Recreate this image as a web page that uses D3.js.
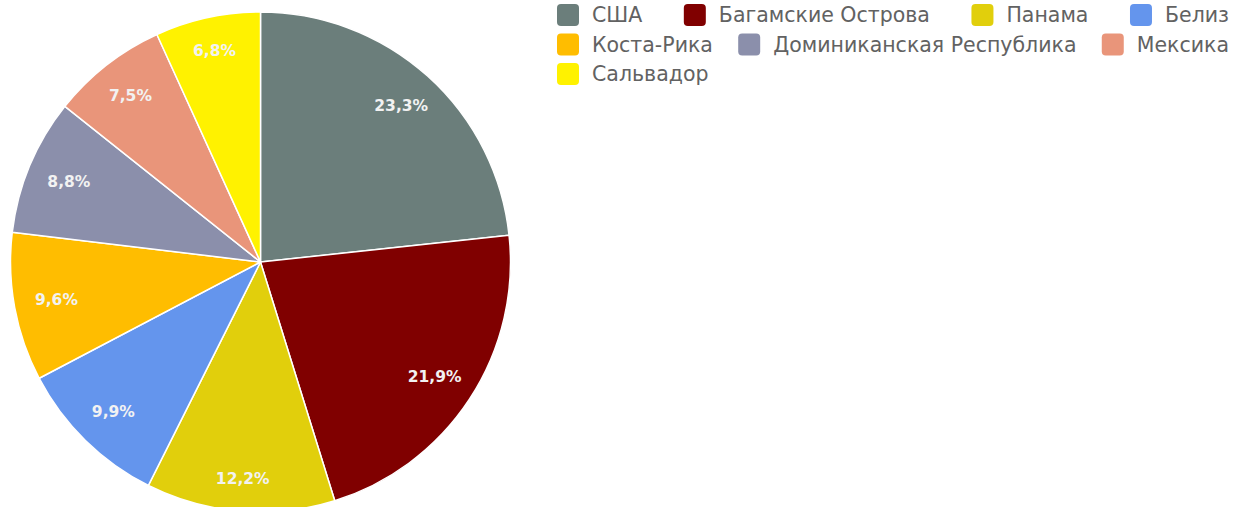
<!DOCTYPE html>
<html>
<head>
<meta charset="utf-8">
<script src="https://cdn.jsdelivr.net/npm/d3@7"></script>
<style>
  html, body { margin: 0; padding: 0; background: #fff; }
  svg { display: block; }
</style>
</head>
<body>
<svg id="chart" width="1235" height="507"></svg>
<script>
// data
const countries = ["США", "Багамские Острова", "Панама", "Белиз", "Коста-Рика", "Доминиканская Республика", "Мексика", "Сальвадор"];
const shares = [23.3, 21.9, 12.2, 9.9, 9.6, 8.8, 7.5, 6.8];
const colors = ["#6b7e7b", "#800000", "#e1cf0c", "#6495ed", "#ffbd00", "#8b8fab", "#e9957a", "#fff200"];

const svg = d3.select("#chart");

const cx = 260.5, cy = 262, radius = 250;

const color = d3.scaleOrdinal().domain(countries).range(colors);

const pie = d3.pie()
    .sort(null)
    .value(d => d.value);

const data = countries.map((c, i) => ({ name: c, value: shares[i] }));
const arcs = pie(data);

const arc = d3.arc().innerRadius(0).outerRadius(radius);

// labels sit a bit further out near the top and bottom of the pie
const labelPos = d => {
    const mid = (d.startAngle + d.endAngle) / 2;
    const r = radius * (0.83 + 0.04 * Math.pow(Math.cos(mid), 4));
    return d3.arc().innerRadius(r).outerRadius(r).centroid(d);
};

const g = svg.append("g").attr("transform", `translate(${cx},${cy})`);

g.selectAll("path.slice")
    .data(arcs)
    .enter().append("path")
    .attr("class", "slice")
    .attr("d", arc)
    .attr("fill", d => color(d.data.name))
    .attr("stroke", "#fff")
    .attr("stroke-width", 1.5)
    .attr("stroke-linejoin", "round");

const fmt = v => v.toFixed(1).replace(".", ",") + "%";

g.selectAll("text.lbl")
    .data(arcs)
    .enter().append("text")
    .attr("class", "lbl")
    .attr("transform", d => `translate(${labelPos(d)})`)
    .attr("text-anchor", "middle")
    .attr("dy", "0.35em")
    .attr("font-family", "'DejaVu Sans', sans-serif")
    .attr("font-weight", "bold")
    .attr("font-size", 15.5)
    .attr("fill", "#f2f2f2")
    .text(d => fmt(d.data.value));

// legend: rows packed greedily, then spread to fill the width
const legendX = 557, legendRight = 1229, rowH = 29.5, sw = 22, textGap = 13, minGap = 15;
const legend = svg.append("g").attr("transform", "translate(0,15)");

const items = countries.map(c => {
    const item = legend.append("g");
    item.append("rect")
        .attr("x", 0)
        .attr("y", -sw / 2)
        .attr("width", sw)
        .attr("height", sw)
        .attr("rx", 4)
        .attr("fill", color(c));
    const t = item.append("text")
        .attr("x", sw + textGap)
        .attr("dy", "0.35em")
        .attr("font-family", "'DejaVu Sans', sans-serif")
        .attr("font-size", 20.5)
        .attr("fill", "#626262")
        .text(c);
    return { node: item, w: sw + textGap + t.node().getComputedTextLength() };
});

const rows = [[]];
let used = 0;
items.forEach(it => {
    const cur = rows[rows.length - 1];
    const need = cur.length ? used + minGap + it.w : it.w;
    if (cur.length && legendX + need > legendRight) {
        rows.push([it]);
        used = it.w;
    } else {
        cur.push(it);
        used = need;
    }
});

rows.forEach((r, ri) => {
    const total = d3.sum(r, d => d.w);
    const gap = r.length > 1 ? (legendRight - legendX - total) / (r.length - 1) : 0;
    let x = legendX;
    r.forEach(it => {
        it.node.attr("transform", `translate(${x},${ri * rowH})`);
        x += it.w + gap;
    });
});
</script>
</body>
</html>
